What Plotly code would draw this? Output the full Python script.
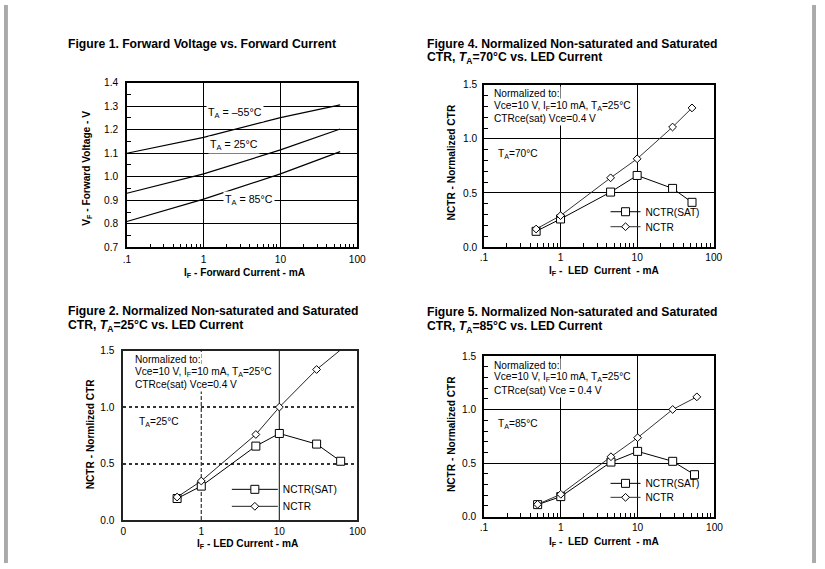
import plotly.graph_objects as go

W, H = 825, 569
FONT = "Liberation Sans"

# ---------------- data ----------------
# Figure 1: forward voltage vs forward current
f1_current = [0.1, 1, 10, 60]
f1_vf_m55 = [1.100, 1.167, 1.251, 1.305]
f1_vf_25 = [0.930, 1.012, 1.114, 1.203]
f1_vf_85 = [0.810, 0.905, 1.012, 1.107]

# Figure 4: TA = 70 C
f4_current = [0.48, 1, 4.5, 10, 29, 52]
f4_sat = [0.145, 0.259, 0.508, 0.662, 0.542, 0.413]
f4_nctr = [0.166, 0.290, 0.640, 0.816, 1.110, 1.287]

# Figure 2: TA = 25 C
f2_current_sat = [0.49, 1, 5, 10, 30, 61]
f2_sat = [0.19, 0.30, 0.654, 0.766, 0.672, 0.52]
f2_current_nctr = [0.49, 1, 5, 10, 30, 70]
f2_nctr = [0.203, 0.345, 0.757, 0.999, 1.332, 1.54]

# Figure 5: TA = 85 C
f5_current_sat = [0.5, 1, 4.5, 10, 28.6, 55]
f5_sat = [0.112, 0.187, 0.51, 0.61, 0.517, 0.392]
f5_current_nctr = [0.5, 1, 4.5, 10, 28.6, 59]
f5_nctr = [0.115, 0.209, 0.56, 0.738, 1.002, 1.12]

x_tickvals = [0.1, 1, 10, 100]
x_ticktext = [".1", "1", "10", "100"]
x_ticktext_f2 = ["0", "1", "10", "100"]
f1_yticks = [0.7, 0.8, 0.9, 1.0, 1.1, 1.2, 1.3, 1.4]
f1_yticktext = ["0.7", "0.8", "0.9", "1.0", "1.1", "1.2", "1.3", "1.4"]
ctr_yticks = [0.0, 0.5, 1.0, 1.5]
ctr_yticktext = ["0.0", "0.5", "1.0", "1.5"]

# ---------------- helpers ----------------
# photographed page appears slightly scaled and offset; positions below are
# given in target-picture pixels and converted to page pixels
SX, OX = 0.985, 4.0
SY, OY = 0.982, 5.0
FS = 1.016  # font compensation


def px(x):
    return min(max((x - OX) / SX / W, 0), 1)


def py(y):
    return min(max(1 - (y - OY) / SY / H, 0), 1)


def fs(s):
    return s * FS


x_minor = [k * 10 ** d for d in (-1, 0, 1) for k in range(2, 10)]
f1_yminor = [round(0.75 + 0.1 * i, 2) for i in range(7)]
ctr_yminor = [round(0.1 * i, 1) for i in range(1, 15) if i % 5 != 0]

# plot areas in target pixels: (left, right, top, bottom)
P1 = (127, 357.5, 82.7, 247.7)
P4 = (484.3, 714.3, 85, 247.3)
P2 = (123.3, 357.7, 351, 520.7)
P5 = (484.3, 715, 356.7, 517.3)


def xaxis(p, ticktext, anchor, standoff, minor=True, grid=True, framecolor="black"):
    d = dict(type="log", range=[-1, 2], domain=[px(p[0]), px(p[1])], anchor=anchor,
             tickmode="array", tickvals=x_tickvals, ticktext=ticktext, ticks="",
             showgrid=grid, gridcolor="black", gridwidth=1,
             showline=True, linecolor=framecolor, linewidth=1.5, mirror=True,
             zeroline=False, tickfont=dict(size=fs(10), color="black", family=FONT),
             ticklabelstandoff=standoff)
    if minor:
        d["minor"] = dict(ticks="inside", ticklen=4, tickmode="array", tickvals=x_minor,
                          tickcolor="black", tickwidth=1, showgrid=False)
    return d


def yaxis(p, rng, tickvals, ticktext, anchor, minorvals=None, grid=True, framecolor="black",
          griddash="solid", gridcolor="black", gridwidth=1, standoff=4):
    d = dict(range=rng, domain=[py(p[3]), py(p[2])], anchor=anchor,
             tickmode="array", tickvals=tickvals, ticktext=ticktext, ticks="",
             showgrid=grid, gridcolor=gridcolor, gridwidth=gridwidth, griddash=griddash,
             showline=True, linecolor=framecolor, linewidth=1.5, mirror=True,
             zeroline=False, tickfont=dict(size=fs(10), color="black", family=FONT),
             ticklabelstandoff=standoff)
    if minorvals:
        d["minor"] = dict(ticks="inside", ticklen=4, tickmode="array", tickvals=minorvals,
                          tickcolor="black", tickwidth=1, showgrid=False)
    return d


fig = go.Figure()

line_style = dict(color="black", width=1)
sq = dict(symbol="square", size=8, color="white", line=dict(color="black", width=1))
dia = dict(symbol="diamond", size=6, color="white", line=dict(color="black", width=1))

# Figure 1 curves
for vals in (f1_vf_m55, f1_vf_25, f1_vf_85):
    fig.add_trace(go.Scatter(x=f1_current, y=vals, mode="lines", line=dict(color="black", width=1.2),
                             xaxis="x", yaxis="y", showlegend=False, hoverinfo="skip"))

# Figure 4
fig.add_trace(go.Scatter(x=f4_current, y=f4_sat, mode="lines+markers", name="NCTR(SAT)",
                         line=line_style, marker=sq, xaxis="x2", yaxis="y2", legend="legend"))
fig.add_trace(go.Scatter(x=f4_current, y=f4_nctr, mode="lines+markers", name="NCTR",
                         line=dict(color="#333333", width=1), marker=dia, xaxis="x2", yaxis="y2",
                         legend="legend2"))

# Figure 2
fig.add_trace(go.Scatter(x=f2_current_sat, y=f2_sat, mode="lines+markers", name="NCTR(SAT)",
                         line=line_style, marker=sq, xaxis="x3", yaxis="y3", legend="legend3"))
fig.add_trace(go.Scatter(x=f2_current_nctr, y=f2_nctr, mode="lines+markers", name="NCTR",
                         line=dict(color="#222222", width=1), marker=dia, xaxis="x3", yaxis="y3",
                         legend="legend4"))

# Figure 5
fig.add_trace(go.Scatter(x=f5_current_sat, y=f5_sat, mode="lines+markers", name="NCTR(SAT)",
                         line=line_style, marker=sq, xaxis="x4", yaxis="y4", legend="legend5"))
fig.add_trace(go.Scatter(x=f5_current_nctr, y=f5_nctr, mode="lines+markers", name="NCTR",
                         line=dict(color="#333333", width=1), marker=dia, xaxis="x4", yaxis="y4",
                         legend="legend6"))


def leg(x, y, w=30):
    return dict(x=px(x), y=py(y), xanchor="left", yanchor="middle", bgcolor="rgba(0,0,0,0)",
                font=dict(size=fs(10), color="black", family=FONT), borderwidth=0, itemwidth=w)


fig.update_layout(
    width=W, height=H, margin=dict(l=0, r=0, t=0, b=0),
    paper_bgcolor="white", plot_bgcolor="white",
    font=dict(family=FONT, color="black", size=fs(10)),
    xaxis=xaxis(P1, x_ticktext, "y", 2),
    yaxis=yaxis(P1, [0.7, 1.4], f1_yticks, f1_yticktext, "x", f1_yminor, standoff=5),
    xaxis2=xaxis(P4, x_ticktext, "y2", 0),
    yaxis2=yaxis(P4, [0, 1.5], ctr_yticks, ctr_yticktext, "x2", ctr_yminor, standoff=3),
    xaxis3=xaxis(P2, x_ticktext_f2, "y3", 1, minor=False, grid=False, framecolor="#222222"),
    yaxis3=yaxis(P2, [0, 1.5], ctr_yticks, ctr_yticktext, "x3", None, framecolor="#222222",
                  griddash="dot", gridcolor="#333333", gridwidth=1.5, standoff=5),
    xaxis4=xaxis(P5, x_ticktext, "y4", 0),
    yaxis4=yaxis(P5, [0, 1.5], ctr_yticks, ctr_yticktext, "x4", ctr_yminor, standoff=4),
    legend=leg(606, 212),
    legend2=leg(606, 227),
    legend3=leg(227, 490, 46),
    legend4=leg(227, 507, 46),
    legend5=leg(606, 484),
    legend6=leg(606, 498),
)

# Figure 2 vertical grid lines (dashed at 1, solid at 10)
fig.add_shape(type="line", xref="x3", yref="y3 domain", x0=1, x1=1, y0=0, y1=1,
              line=dict(color="#333333", width=1.2, dash="4px,2px"), layer="below")
fig.add_shape(type="line", xref="x3", yref="y3 domain", x0=10, x1=10, y0=0, y1=1,
              line=dict(color="#333333", width=1.2), layer="below")

# page side bars (at the very edges of the page)
fig.add_shape(type="rect", xref="paper", yref="paper", x0=0, x1=4 / W, y0=0, y1=1,
              fillcolor="#aaaaaa", line=dict(width=0))
fig.add_shape(type="rect", xref="paper", yref="paper", x0=1 - 4 / W, x1=1, y0=0, y1=1,
              fillcolor="#aaaaaa", line=dict(width=0))


def text(x, y, s, size=10, bold=False, xanchor="left", angle=0, bg=None):
    fig.add_annotation(xref="paper", yref="paper", x=px(x), y=py(y), text=s, showarrow=False,
                       xanchor=xanchor, yanchor="middle", textangle=angle,
                       font=dict(size=fs(size), color="black", family=FONT,
                                 weight="bold" if bold else "normal"),
                       bgcolor=bg, borderpad=1 if bg else 0)


# titles
text(67, 44, "Figure 1. Forward Voltage vs. Forward Current", 12, True)
text(426, 44, "Figure 4. Normalized Non-saturated and Saturated", 12, True)
text(426, 58, "CTR, <i>T</i><sub>A</sub>=70°C vs. LED Current", 12, True)
text(67, 311, "Figure 2. Normalized Non-saturated and Saturated", 12, True)
text(67, 326, "CTR, <i>T</i><sub>A</sub>=25°C vs. LED Current", 12, True)
text(426, 312, "Figure 5. Normalized Non-saturated and Saturated", 12, True)
text(426, 327, "CTR, <i>T</i><sub>A</sub>=85°C vs. LED Current", 12, True)

# axis titles
NB = "\u00a0"
text(245, 273.5, "I<sub>F</sub> - Forward Current - mA", 10, True, "center")
text(605, 272, f"I<sub>F</sub> -{NB}{NB}LED{NB}{NB}Current{NB}{NB}- mA", 10, True, "center")
text(248, 545.5, "I<sub>F</sub> - LED Current - mA", 10, True, "center")
text(605, 543, f"I<sub>F</sub> -{NB}{NB}LED{NB}{NB}Current{NB}{NB}- mA", 10, True, "center")
text(88, 168, "V<sub>F</sub> - Forward Voltage - V", 10, True, "center", -90)
text(452, 163, "NCTR - Normalized CTR", 10, True, "center", -90)
text(90, 434, "NCTR - Normlized CTR", 10, True, "center", -90)
text(452, 435, "NCTR - Normalized CTR", 10, True, "center", -90)

# Figure 1 curve labels
text(235, 113, "T<sub>A</sub> = –55°C", 10.5, False, "center", bg="white")
text(234.5, 145, "T<sub>A</sub> = 25°C", 10.5, False, "center", bg="white")
text(249.5, 200, "T<sub>A</sub> = 85°C", 10.5, False, "center", bg="white")


# normalization notes
def notes(x, y0, last, ta_y, ta):
    text(x, y0, "Normalized to:", 10, bg="white")
    text(x, y0 + 12.5, "Vce=10 V, I<sub>F</sub>=10 mA, T<sub>A</sub>=25°C", 10, bg="white")
    text(x, y0 + 25, last, 10, bg="white")
    text(x + 4, ta_y, f"T<sub>A</sub>={ta}°C", 10, bg="white")


notes(492.7, 94, "CTRce(sat) Vce=0.4 V", 155, 70)
notes(132.7, 360, "CTRce(sat) Vce=0.4 V", 423, 25)
notes(492.7, 366, "CTRce(sat) Vce = 0.4 V", 425, 85)

fig.write_html(
    "out.html",
    config={"displayModeBar": False},
    post_script=("var s=document.documentElement.style;s.margin='0';s.padding='0';s.overflow='hidden';"
                 "var b=document.body.style;b.margin='0';b.padding='0';b.overflow='hidden';"),
)
